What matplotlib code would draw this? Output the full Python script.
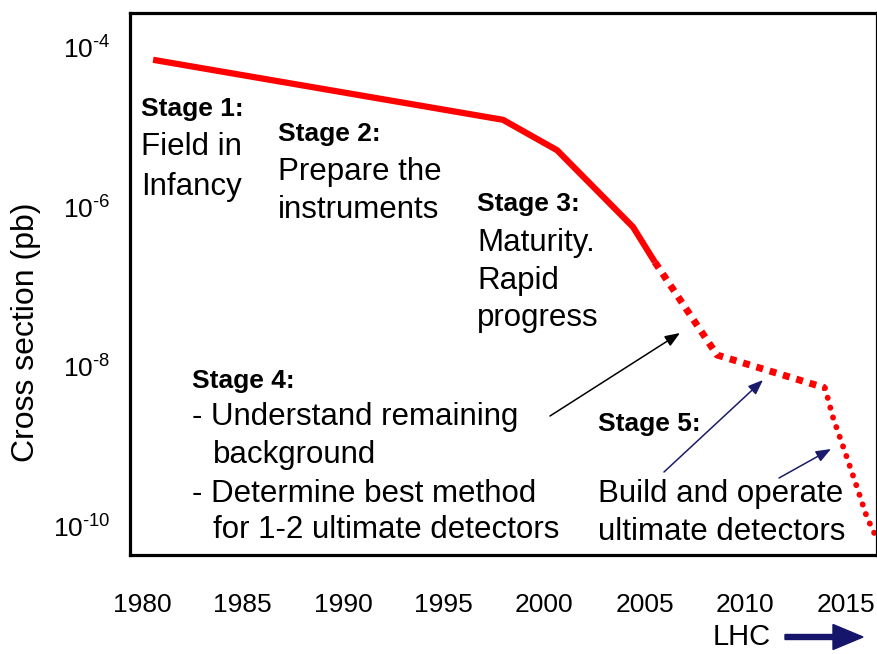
import matplotlib
matplotlib.use("Agg")
import matplotlib.pyplot as plt
import numpy as np
from matplotlib.ticker import FixedLocator, FuncFormatter

plt.rcParams["font.family"] = ["Liberation Sans", "DejaVu Sans"]
plt.rcParams["mathtext.fontset"] = "custom"
plt.rcParams["mathtext.rm"] = "Liberation Sans"
plt.rcParams["mathtext.default"] = "regular"

# measured curve (year, log10 cross section in pb)
solid_years = [1980.55, 1997.96, 2000.65, 2004.43, 2005.52]
solid_logs = [-4.16, -4.91, -5.29, -6.25, -6.69]
proj_years = [2005.52, 2008.61, 2013.98]
proj_logs = [-6.69, -7.85, -8.26]
future_years = [2013.98, 2014.38, 2015.07, 2015.57, 2016.07, 2016.7]
future_logs = [-8.26, -8.63, -9.13, -9.50, -9.88, -10.22]

year_ticks = [1980, 1985, 1990, 1995, 2000, 2005, 2010, 2015]
decade_ticks = [-4, -6, -8, -10]

# text blocks: (label, x px, baseline px, bold)
labels = [
    ("Stage 1:", 141, 116, True),
    ("Field in", 141, 155, False),
    ("Infancy", 141, 195, False),
    ("Stage 2:", 278, 141, True),
    ("Prepare the", 278, 180, False),
    ("instruments", 278, 218, False),
    ("Stage 3:", 477, 211, True),
    ("Maturity.", 477, 251, False),
    ("Rapid", 477, 289, False),
    ("progress", 477, 326, False),
    ("Stage 4:", 192, 388, True),
    ("- Understand remaining", 192, 425, False),
    ("background", 213, 463, False),
    ("- Determine best method", 192, 502, False),
    ("for 1-2 ultimate detectors", 213, 538, False),
    ("Stage 5:", 598, 431, True),
    ("Build and operate", 598, 502, False),
    ("ultimate detectors", 598, 540, False),
]

# pointer arrows: (tail px, head px, colour)
pointers = [
    ((550, 416), (680, 333), "black"),
    ((664, 472), (763, 380), "#1b1b6b"),
    ((779, 478), (831, 449), "#1b1b6b"),
]

W, H = 878, 654
L, R, T, B = 130, 877, 13, 555

fig = plt.figure(figsize=(W / 100, H / 100), dpi=100)
ax = fig.add_axes([L / W, 1 - B / H, (R - L) / W, (B - T) / H])


def frac(x, y):
    return (x - L) / (R - L), (B - y) / (B - T)


solid_y = [10.0 ** v for v in solid_logs]
proj_y = [10.0 ** v for v in proj_logs]
future_y = [10.0 ** v for v in future_logs]

ax.plot(solid_years, solid_y, color="#ff0000", lw=4.5, solid_capstyle="butt", solid_joinstyle="round")
ax.plot(proj_years, proj_y, color="#ff0000", lw=5, dashes=(1, 1), dash_capstyle="butt")
ax.plot(future_years, future_y, color="#ff0000", lw=4.2, dashes=(0.05, 1.7), dash_capstyle="round")

ax.set_yscale("log")
ax.set_xlim(1979.4, 2016.57)
ax.set_ylim(10 ** -10.35, 10 ** -3.575)
ax.xaxis.set_major_locator(FixedLocator(year_ticks))
ax.xaxis.set_major_formatter(FuncFormatter(lambda v, p: f"{int(round(v))}"))
ax.yaxis.set_major_locator(FixedLocator([10.0 ** d for d in decade_ticks]))
ax.yaxis.set_major_formatter(FuncFormatter(lambda v, p: r"$10^{\text{%d}}$" % round(np.log10(v))))
ax.yaxis.set_minor_locator(FixedLocator([]))
ax.tick_params(axis="x", length=0, pad=27, labelsize=19)
ax.tick_params(axis="y", length=0, pad=14, labelsize=19)
for s in ax.spines.values():
    s.set_linewidth(2.3)
    s.set_color("black")

fig.text(26 / W, 1 - 332 / H, "Cross section (pb)", rotation=90, ha="center", va="center", fontsize=23)

for text, x, y, bold in labels:
    ax.text(*frac(x, y), text, transform=ax.transAxes, ha="left", va="baseline",
            fontsize=19 if bold else 22.5, fontweight="bold" if bold else "normal", color="black")

for tail, head, col in pointers:
    ax.annotate("", xy=frac(*head), xycoords="axes fraction", xytext=frac(*tail), textcoords="axes fraction",
                arrowprops=dict(arrowstyle="-|>,head_length=0.9,head_width=0.35", color=col, lw=1.1,
                                shrinkA=0, shrinkB=0))

fig.text(742 / W, 1 - 637 / H, "LHC", ha="center", va="center", fontsize=21)
fig.patches.append(matplotlib.patches.FancyArrow(
    785 / W, 1 - 637 / H, 78 / W, 0, width=5 / H, head_width=25 / H, head_length=30 / W,
    length_includes_head=True, color="#15156b", transform=fig.transFigure, figure=fig))

fig.savefig("out.png", dpi=100)
